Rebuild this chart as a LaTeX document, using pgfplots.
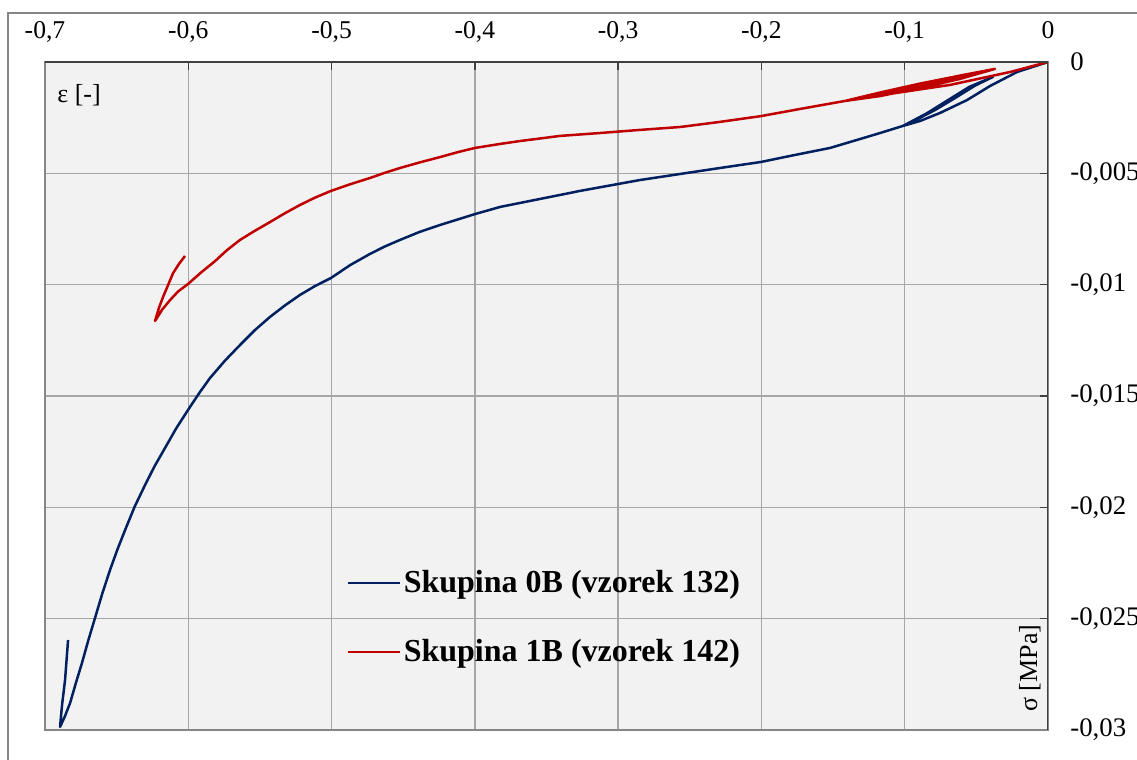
\documentclass[border=0pt]{standalone}
\usepackage{pgfplots}
\pgfplotsset{compat=1.18}
\usepackage{fontspec}
\setmainfont{Liberation Serif}
\definecolor{bgc}{HTML}{F2F2F2}
\definecolor{gridc}{HTML}{A6A6A6}
\definecolor{axisc}{HTML}{868686}
\definecolor{darkax}{HTML}{404040}
\definecolor{blueS}{HTML}{002060}
\definecolor{redS}{HTML}{C00000}
\begin{document}
\begin{tikzpicture}
\path[use as bounding box] (-22.5bp,-15bp) rectangle (546bp,365bp);
\draw[color=axisc, line width=0.65bp] (-18.5bp,-30bp) -- (-18.5bp,358.5bp) -- (560bp,358.5bp);
\begin{axis}[
  scale only axis, width=501.5bp, height=334bp,
  xmin=-0.7, xmax=0, ymin=-0.03, ymax=0,
  scaled x ticks=false, scaled y ticks=false,
  axis background/.style={fill=bgc},
  xtick={-0.7,-0.6,-0.5,-0.4,-0.3,-0.2,-0.1,0},
  xticklabels={{-0,7},{-0,6},{-0,5},{-0,4},{-0,3},{-0,2},{-0,1},{0}},
  ytick={-0.03,-0.025,-0.02,-0.015,-0.01,-0.005,0},
  yticklabels={{-0,03},{-0,025},{-0,02},{-0,015},{-0,01},{-0,005},{0}},
  xticklabel pos=right, yticklabel pos=right,
  xtick pos=right, ytick pos=right,
  tick align=inside, major tick length=4bp,
  tick style={color=darkax, line width=0.7bp},
  xticklabel style={anchor=base, inner sep=0pt, yshift=11.5bp, font=\fontsize{12.8bp}{15bp}\selectfont},
  yticklabel style={anchor=west, inner sep=0pt, xshift=11bp, font=\fontsize{13.4bp}{15bp}\selectfont},
  grid=major, major grid style={color=gridc, line width=0.7bp},
  axis line style={color=axisc, line width=1bp},
  legend style={at={(0.300,0.244)}, anchor=north west, draw=none, fill=none, inner sep=0pt,
    row sep=19bp, font=\bfseries\fontsize{16bp}{19bp}\selectfont, nodes={inner sep=1.5bp}},
  legend cell align=left,
  legend image code/.code={\draw[#1] (0bp,0bp) -- (26bp,0bp);},
  every axis plot/.append style={line width=1.25bp, line join=round, no marks},
]
\addplot[color=blueS] coordinates {
(0,0) (-0.0216,-0.00045) (-0.0405,-0.00108) (-0.0565,-0.00171) (-0.0754,-0.00229) (-0.0893,-0.00265) (-0.1012,-0.00287)
(-0.085,-0.00235) (-0.07,-0.00175) (-0.055,-0.00115) (-0.0384,-0.00067)
(-0.0509,-0.00103) (-0.0649,-0.00158) (-0.0789,-0.00212) (-0.0928,-0.00259) (-0.1012,-0.00287)
(-0.085,-0.00232) (-0.07,-0.00172) (-0.055,-0.00112) (-0.0384,-0.00067)
(-0.0509,-0.00106) (-0.0649,-0.00162) (-0.0789,-0.00216) (-0.0928,-0.00262) (-0.1012,-0.00287)
(-0.1172,-0.00319) (-0.1312,-0.00346) (-0.1521,-0.00386) (-0.1661,-0.00404) (-0.180,-0.00422)
(-0.2003,-0.00449) (-0.2289,-0.00476) (-0.2568,-0.00503) (-0.2847,-0.00530) (-0.3001,-0.00548)
(-0.3266,-0.00579) (-0.3545,-0.00615) (-0.3824,-0.00651) (-0.3999,-0.00683) (-0.4243,-0.00732)
(-0.4385,-0.00763) (-0.4522,-0.00799) (-0.4630,-0.00829) (-0.4732,-0.00862) (-0.4870,-0.00912)
(-0.5004,-0.00970) (-0.5115,-0.01006) (-0.522,-0.01046) (-0.5325,-0.01093) (-0.543,-0.01145)
(-0.5535,-0.01204) (-0.5639,-0.01271) (-0.5745,-0.01342) (-0.5848,-0.01419) (-0.5925,-0.01488)
(-0.6002,-0.01563) (-0.6085,-0.01646) (-0.6162,-0.01733) (-0.6235,-0.01815) (-0.6302,-0.01900)
(-0.6375,-0.01998) (-0.6441,-0.02102) (-0.6495,-0.02190) (-0.6546,-0.02281) (-0.6600,-0.02387)
(-0.6651,-0.02497) (-0.6698,-0.02598) (-0.6742,-0.02699) (-0.6785,-0.02790) (-0.6825,-0.02879)
(-0.6862,-0.02940) (-0.6895,-0.02986) (-0.6881,-0.02888) (-0.686,-0.02775) (-0.6839,-0.02596)
};
\addlegendentry{Skupina 0B (vzorek 132)}
\addplot[color=redS] coordinates {
(0,0) (-0.0265,-0.00045) (-0.0684,-0.00103) (-0.1152,-0.00148) (-0.1417,-0.00175)
(-0.1172,-0.00139) (-0.0893,-0.00099) (-0.0614,-0.00063) (-0.0370,-0.00031)
(-0.0614,-0.00072) (-0.0893,-0.00112) (-0.1172,-0.00148) (-0.1417,-0.00175)
(-0.1172,-0.00137) (-0.0893,-0.00097) (-0.0614,-0.00061) (-0.0370,-0.00031)
(-0.0614,-0.00076) (-0.0893,-0.00117) (-0.1172,-0.00153) (-0.1417,-0.00175)
(-0.1731,-0.00211) (-0.2003,-0.00243) (-0.2289,-0.00269) (-0.2568,-0.00292) (-0.2847,-0.00305)
(-0.3127,-0.00319) (-0.3406,-0.00332) (-0.3685,-0.00355) (-0.3824,-0.00368) (-0.3999,-0.00386)
(-0.4120,-0.00405) (-0.4243,-0.00427) (-0.4385,-0.00451) (-0.4522,-0.00476) (-0.4630,-0.00498)
(-0.4732,-0.00521) (-0.4870,-0.00549) (-0.5004,-0.00579) (-0.5115,-0.00609) (-0.522,-0.00642)
(-0.5325,-0.00679) (-0.543,-0.00719) (-0.5535,-0.00758) (-0.5639,-0.00799) (-0.5730,-0.00845)
(-0.5813,-0.00894) (-0.5910,-0.00945) (-0.6002,-0.00997) (-0.6070,-0.01030) (-0.6127,-0.01069)
(-0.6182,-0.01112) (-0.6232,-0.01163) (-0.6205,-0.01105) (-0.6176,-0.01055) (-0.6140,-0.01000)
(-0.6106,-0.00948) (-0.6065,-0.00907) (-0.6023,-0.00871)
};
\addlegendentry{Skupina 1B (vzorek 142)}
\draw[color=darkax, line width=1bp] (rel axis cs:0,1) -- (rel axis cs:1,1) -- (rel axis cs:1,0);
\end{axis}
\node[anchor=west, inner sep=0pt, font=\fontsize{13bp}{15bp}\selectfont] at (6bp,317.5bp) {ε [-]};
\node[rotate=90, anchor=base west, inner sep=0pt, font=\fontsize{13bp}{15bp}\selectfont] at (496bp,9bp) {σ [MPa]};
\end{tikzpicture}
\end{document}
